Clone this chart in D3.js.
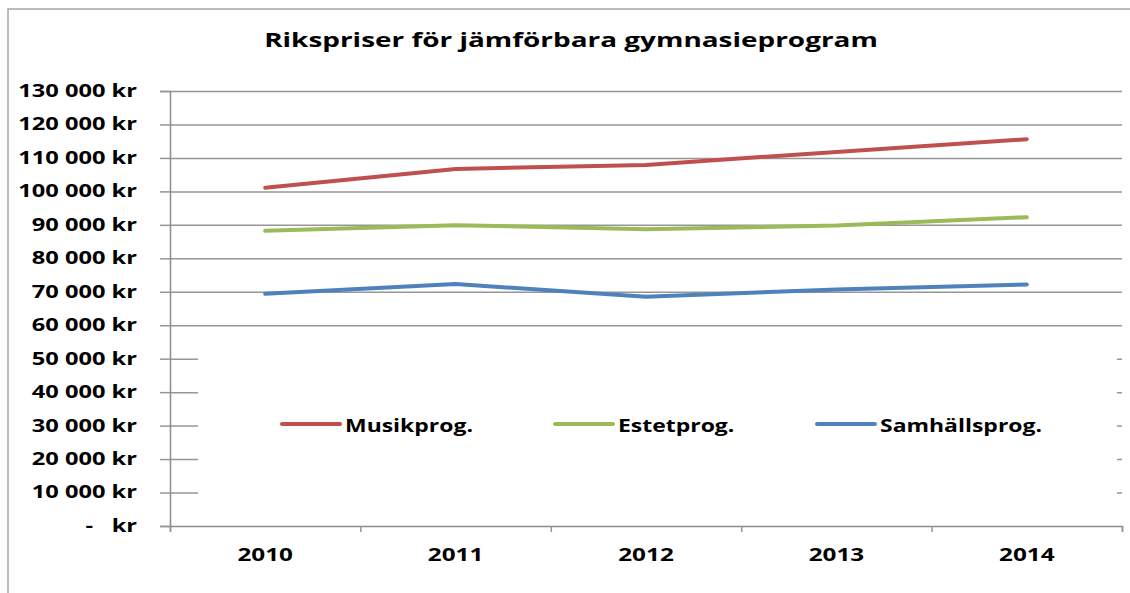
<!DOCTYPE html>
<html><head><meta charset="utf-8">
<script src="https://cdn.jsdelivr.net/npm/d3@7"></script>
<style>
html,body{margin:0;padding:0;background:#fff;}
svg text{font-family:"Open Sans",sans-serif;font-weight:700;fill:#000;white-space:pre;}
</style></head>
<body>
<svg id="c" width="1130" height="593"></svg>
<script>
const title = "Rikspriser för jämförbara gymnasieprogram";
const years = ["2010","2011","2012","2013","2014"];
const seriesNames = ["Musikprog.","Estetprog.","Samhällsprog."];
const seriesColors = ["#C0504D","#9BBB59","#4F81BD"];
const musikValues = [101100,106700,107900,111800,115600];
const estetValues = [88200,89900,88700,89800,92300];
const samhallValues = [69400,72300,68500,70700,72200];
const yTicks = [0,10000,20000,30000,40000,50000,60000,70000,80000,90000,100000,110000,120000,130000];

const svg = d3.select("#c");
const L = 170, R = 1122, T = 91, B = 526;

// outer frame
svg.append("path").attr("d","M8,593 L8,9 L1130,9").attr("fill","none").attr("stroke","#a6a6a6").attr("stroke-width",1.5);

const y = d3.scaleLinear().domain([0,130000]).range([B,T]);
const xb = d3.scaleBand().domain(years).range([L,R]);
const xl = d3.scaleLinear().domain([0,years.length]).range([L,R]);

// gridlines
const grid = svg.append("g").attr("transform",`translate(${L},0)`)
  .call(d3.axisLeft(y).tickValues(yTicks.filter(d=>d>0)).tickSize(-(R-L)).tickFormat(""));
grid.select(".domain").remove();
grid.selectAll("line").attr("stroke","#969696").attr("stroke-width",1.5);

// legend box (covers gridlines)
svg.append("rect").attr("x",198).attr("y",338).attr("width",1117-198).attr("height",512-338).attr("fill","#fff");

// y axis
const SY = 1.39;
const fmt = d => d===0 ? "-   kr" : d3.format(",")(d).replace(/,/g," ")+" kr";
const ya = svg.append("g").attr("transform",`translate(${L},0)`)
  .call(d3.axisLeft(y).tickValues(yTicks).tickSize(10).tickPadding(33).tickFormat(fmt));
ya.select(".domain").attr("stroke","#8c8c8c").attr("stroke-width",1.5);
ya.selectAll("line").attr("stroke","#969696").attr("stroke-width",1.5);
ya.selectAll("text").attr("font-size",17).style("font-family","'Open Sans',sans-serif").style("font-weight",700)
  .attr("x",-33/SY).attr("transform",`scale(${SY},1)`);

// x axis
const SXL = 1.35;
const xa = svg.append("g").attr("transform",`translate(0,${B})`)
  .call(d3.axisBottom(xl).ticks(years.length).tickSize(6).tickFormat(""));
xa.select(".domain").attr("stroke","#8c8c8c").attr("stroke-width",1.5);
xa.selectAll("line").attr("stroke","#969696").attr("stroke-width",1.5);
svg.append("g").selectAll("text").data(years).join("text")
  .attr("transform",d=>`translate(${xb(d)+xb.bandwidth()/2},561) scale(${SXL},1)`)
  .attr("text-anchor","middle").attr("font-size",18).text(d=>d);

// lines
const data = [musikValues,estetValues,samhallValues];
const line = d3.line().x((d,i)=>xb(years[i])+xb.bandwidth()/2).y(d=>y(d));
svg.append("g").selectAll("path").data(data).join("path")
  .attr("d",line).attr("fill","none").attr("stroke",(d,i)=>seriesColors[i])
  .attr("stroke-width",4).attr("stroke-linecap","round").attr("stroke-linejoin","round");

// legend
const SLG = 1.35;
const legX = [282,555,817];
const lg = svg.append("g").selectAll("g").data(seriesNames).join("g")
  .attr("transform",(d,i)=>`translate(${legX[i]},424)`);
lg.append("line").attr("x1",0).attr("x2",58).attr("stroke",(d,i)=>seriesColors[i]).attr("stroke-width",4).attr("stroke-linecap","round");
lg.append("text").attr("transform",`translate(63,8) scale(${SLG},1)`).attr("font-size",17).text(d=>d);

// title
const STT = 1.47;
svg.append("text").attr("transform",`translate(571,47) scale(${STT},1)`).attr("text-anchor","middle")
  .attr("font-size",19).text(title);
</script>
</body></html>
